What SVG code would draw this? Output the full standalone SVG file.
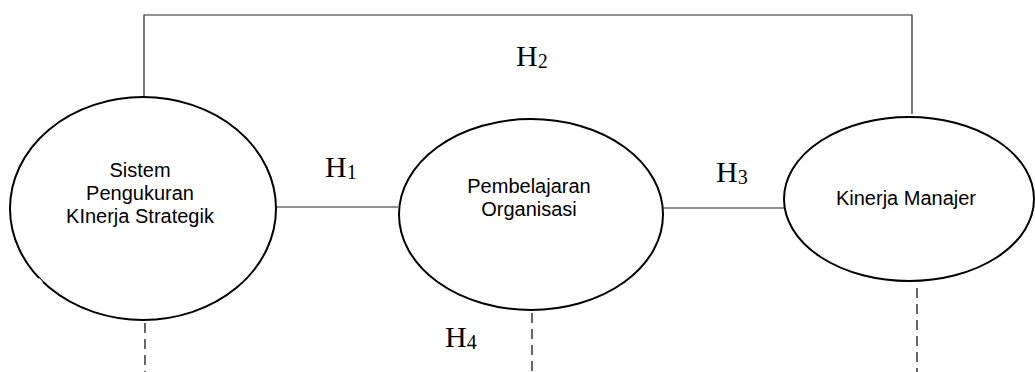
<svg xmlns="http://www.w3.org/2000/svg" width="1035" height="372" viewBox="0 0 1035 372">
<style>
.node{fill:#fff;stroke:#000;stroke-width:2}
.lbl{font-family:"Liberation Sans",Arial,sans-serif;font-size:20px;fill:#000;text-anchor:middle}
.h{font-family:"Liberation Serif","Times New Roman",serif;font-size:30px;fill:#000}
.h tspan{font-size:20px}
.conn{stroke:#222;stroke-width:1.2;fill:none}
.dash{stroke:#000;stroke-width:1.2;fill:none;stroke-dasharray:10 6}
</style>
<rect width="1035" height="372" fill="#fff"/>
<g id="connectors">
<polyline class="conn" points="144,97 144,15 912,15 912,114"/>
<line class="conn" x1="275" y1="207" x2="398" y2="207"/>
<line class="conn" x1="663" y1="208" x2="784" y2="208"/>
<line class="dash" x1="145" y1="323" x2="145" y2="372"/>
<line class="dash" x1="532" y1="313" x2="532" y2="372"/>
<line class="dash" x1="917" y1="288" x2="917" y2="372"/>
</g>
<g id="node-spks">
<ellipse class="node" cx="143" cy="208.5" rx="133" ry="111.5"/>
<line x1="38" y1="279" x2="42" y2="283" stroke="#fff" stroke-width="3"/>
<text class="lbl" x="140" y="177">Sistem</text>
<text class="lbl" x="140" y="200">Pengukuran</text>
<text class="lbl" x="140" y="223">KInerja Strategik</text>
</g>
<g id="node-po">
<ellipse class="node" cx="531" cy="214.5" rx="132" ry="95.5"/>
<text class="lbl" x="529" y="193">Pembelajaran</text>
<text class="lbl" x="529" y="216">Organisasi</text>
</g>
<g id="node-km">
<ellipse class="node" cx="909" cy="199" rx="125" ry="82"/>
<text class="lbl" x="906" y="205">Kinerja Manajer</text>
</g>
<g id="labels">
<text class="h" x="516" y="66">H<tspan dy="2">2</tspan></text>
<text class="h" x="325" y="177">H<tspan dy="2">1</tspan></text>
<text class="h" x="716" y="182">H<tspan dy="2">3</tspan></text>
<text class="h" x="445" y="347">H<tspan dy="2">4</tspan></text>
</g>
</svg>
